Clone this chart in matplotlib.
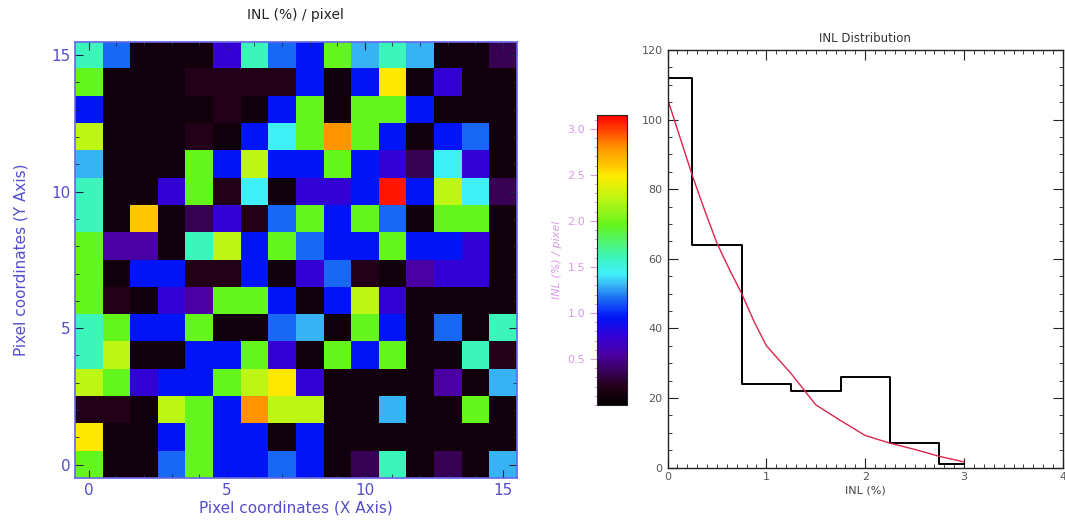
import numpy as np
import matplotlib
matplotlib.use("Agg")
import matplotlib.pyplot as plt
from matplotlib.colors import LinearSegmentedColormap
from matplotlib.ticker import MultipleLocator

# ---------------- data ----------------
# INL (%) per pixel, rows listed from y=15 (top) down to y=0 (bottom), x = 0..15
inl_rows_top_to_bottom = [
    [1.60, 1.15, 0.10, 0.10, 0.10, 0.75, 1.60, 1.15, 0.95, 1.95, 1.30, 1.60, 1.30, 0.10, 0.10, 0.35],
    [1.95, 0.10, 0.10, 0.10, 0.20, 0.20, 0.20, 0.20, 0.95, 0.10, 0.95, 2.50, 0.10, 0.75, 0.10, 0.10],
    [0.95, 0.10, 0.10, 0.10, 0.10, 0.20, 0.10, 0.95, 1.95, 0.10, 1.95, 1.95, 0.95, 0.10, 0.10, 0.10],
    [2.25, 0.10, 0.10, 0.10, 0.20, 0.10, 0.95, 1.42, 1.95, 2.80, 1.95, 0.95, 0.10, 0.95, 1.15, 0.10],
    [1.30, 0.10, 0.10, 0.10, 1.95, 0.95, 2.25, 0.95, 0.95, 1.95, 0.95, 0.75, 0.35, 1.42, 0.75, 0.10],
    [1.60, 0.10, 0.10, 0.75, 1.95, 0.20, 1.42, 0.10, 0.75, 0.75, 0.95, 3.10, 0.95, 2.25, 1.42, 0.35],
    [1.60, 0.10, 2.60, 0.10, 0.35, 0.75, 0.20, 1.15, 1.95, 0.95, 1.95, 1.15, 0.10, 1.95, 1.95, 0.10],
    [1.95, 0.55, 0.55, 0.10, 1.60, 2.25, 0.95, 1.95, 1.15, 0.95, 0.95, 1.95, 0.95, 0.95, 0.75, 0.10],
    [1.95, 0.10, 0.95, 0.95, 0.20, 0.20, 0.95, 0.10, 0.75, 1.15, 0.20, 0.10, 0.55, 0.75, 0.75, 0.10],
    [1.95, 0.20, 0.10, 0.75, 0.55, 1.95, 1.95, 0.95, 0.10, 0.95, 2.25, 0.75, 0.10, 0.10, 0.10, 0.10],
    [1.60, 1.95, 0.95, 0.95, 1.95, 0.10, 0.10, 1.15, 1.30, 0.10, 1.95, 0.95, 0.10, 1.15, 0.10, 1.60],
    [1.60, 2.25, 0.10, 0.10, 0.95, 0.95, 1.95, 0.75, 0.10, 1.95, 0.95, 1.95, 0.10, 0.10, 1.60, 0.20],
    [2.25, 1.95, 0.75, 0.95, 0.95, 1.95, 2.25, 2.50, 0.75, 0.10, 0.10, 0.10, 0.10, 0.55, 0.10, 1.30],
    [0.20, 0.20, 0.10, 2.25, 1.95, 0.95, 2.80, 2.25, 2.25, 0.10, 0.10, 1.30, 0.10, 0.10, 1.95, 0.10],
    [2.50, 0.10, 0.10, 0.95, 1.95, 0.95, 0.95, 0.10, 0.95, 0.10, 0.10, 0.10, 0.10, 0.10, 0.10, 0.10],
    [1.95, 0.10, 0.10, 1.15, 1.95, 0.95, 0.95, 1.15, 0.95, 0.10, 0.35, 1.60, 0.10, 0.35, 0.10, 1.30],
]

# Histogram of INL: bin centres and counts
hist_centers = [0.0, 0.5, 1.0, 1.5, 2.0, 2.5, 3.0]
hist_counts = [112, 64, 24, 22, 26, 7, 1]

# Fitted curve (red)
fit_x = [0.0, 0.125, 0.25, 0.375, 0.5, 0.625, 0.75, 0.875, 1.0, 1.25, 1.5, 1.75, 2.0, 2.25, 2.5, 2.75, 3.0]
fit_y = [106, 95, 84, 74, 64.5, 57, 50, 42, 35, 27, 18, 13.5, 9.2, 7.0, 5.2, 3.2, 1.6]

# colour scale of the map
cmap_values = [0.0, 0.2, 0.35, 0.55, 0.75, 0.95, 1.15, 1.30, 1.42, 1.60, 1.95, 2.25, 2.50, 2.60, 2.80, 3.15]
cmap_colors = [(0, 0, 0), (35, 0, 25), (55, 0, 85), (75, 0, 165), (50, 0, 215), (0, 20, 245),
               (25, 105, 245), (55, 180, 245), (65, 240, 250), (60, 245, 190), (100, 245, 30),
               (190, 245, 20), (255, 235, 0), (255, 200, 0), (255, 150, 0), (255, 0, 0)]
vmin, vmax = 0.0, 3.15

# ---------------- figure ----------------
W, H = 1065, 522
fig = plt.figure(figsize=(W / 100, H / 100), dpi=100)

def rect(x0, y0, x1, y1):
    return [x0 / W, 1 - y1 / H, (x1 - x0) / W, (y1 - y0) / H]

nodes = [(v - vmin) / (vmax - vmin) for v in cmap_values]
cmap = LinearSegmentedColormap.from_list(
    "idl_rainbow", list(zip(nodes, [tuple(c / 255 for c in col) for col in cmap_colors])))

label_col = (0.33, 0.30, 0.80)
frame_col = (0.40, 0.40, 0.90)

# --- heat map ---
ax1 = fig.add_axes(rect(75, 41.5, 516.6, 478.3))
data = np.array(inl_rows_top_to_bottom)[::-1]  # row index = y
im = ax1.imshow(data, cmap=cmap, vmin=vmin, vmax=vmax, origin="lower",
                extent=(-0.5, 15.5, -0.5, 15.5), aspect="auto", interpolation="nearest")
ax1.set_xlim(-0.5, 15.5)
ax1.set_ylim(-0.5, 15.5)
ax1.set_xticks([0, 5, 10, 15])
ax1.set_yticks([0, 5, 10, 15])
ax1.xaxis.set_minor_locator(MultipleLocator(1))
ax1.yaxis.set_minor_locator(MultipleLocator(1))
ax1.tick_params(which="both", direction="in", top=True, right=True, colors="#222244",
                labelcolor=label_col, labelsize=11)
ax1.tick_params(which="major", length=6)
ax1.tick_params(which="minor", length=3)
for s in ax1.spines.values():
    s.set_color(frame_col)
    s.set_linewidth(1.2)
ax1.set_xlabel("Pixel coordinates (X Axis)", color=label_col, fontsize=11, labelpad=2)
ax1.set_ylabel("Pixel coordinates (Y Axis)", color=label_col, fontsize=11, labelpad=16)
ax1.set_title("INL (%) / pixel", fontsize=10, color="#222222", pad=16)

# --- colour bar ---
cax = fig.add_axes(rect(597, 115, 627, 405))
cb = fig.colorbar(im, cax=cax)
cb.set_ticks([0.5, 1.0, 1.5, 2.0, 2.5, 3.0])
cb.ax.yaxis.set_minor_locator(MultipleLocator(0.1))
cb.ax.yaxis.set_ticks_position("left")
cb.ax.yaxis.set_label_position("left")
cb.ax.tick_params(which="both", colors=(0.85, 0.6, 0.9), labelcolor=(0.85, 0.6, 0.9),
                  labelsize=8, direction="out")
cb.ax.tick_params(which="major", length=5)
cb.ax.tick_params(which="minor", length=2)
cb.outline.set_edgecolor("#222222")
cb.set_label("INL (%) / pixel", color=(0.85, 0.6, 0.9), fontsize=8, style="italic", labelpad=4)

# --- histogram ---
ax2 = fig.add_axes(rect(667.5, 50, 1063, 467.5))
ax2.step(hist_centers, hist_counts, where="mid", color="black", linewidth=1.4)
ax2.plot(fit_x, fit_y, color=(0.85, 0.15, 0.3), linewidth=1.0)
ax2.set_xlim(0, 4)
ax2.set_ylim(0, 120)
ax2.set_xticks([0, 1, 2, 3, 4])
ax2.set_yticks([0, 20, 40, 60, 80, 100, 120])
ax2.xaxis.set_minor_locator(MultipleLocator(0.1))
ax2.yaxis.set_minor_locator(MultipleLocator(5))
ax2.tick_params(which="both", direction="in", top=True, right=True, colors="#222222",
                labelcolor="#555555", labelsize=8)
ax2.tick_params(which="major", length=7)
ax2.tick_params(which="minor", length=3)
for s in ax2.spines.values():
    s.set_color("#222222")
    s.set_linewidth(1.0)
ax2.set_xlabel("INL (%)", fontsize=8, color="#444444", labelpad=2)
ax2.set_title("INL Distribution", fontsize=8.5, color="#333333", pad=6)

fig.savefig("out.png", dpi=100)
